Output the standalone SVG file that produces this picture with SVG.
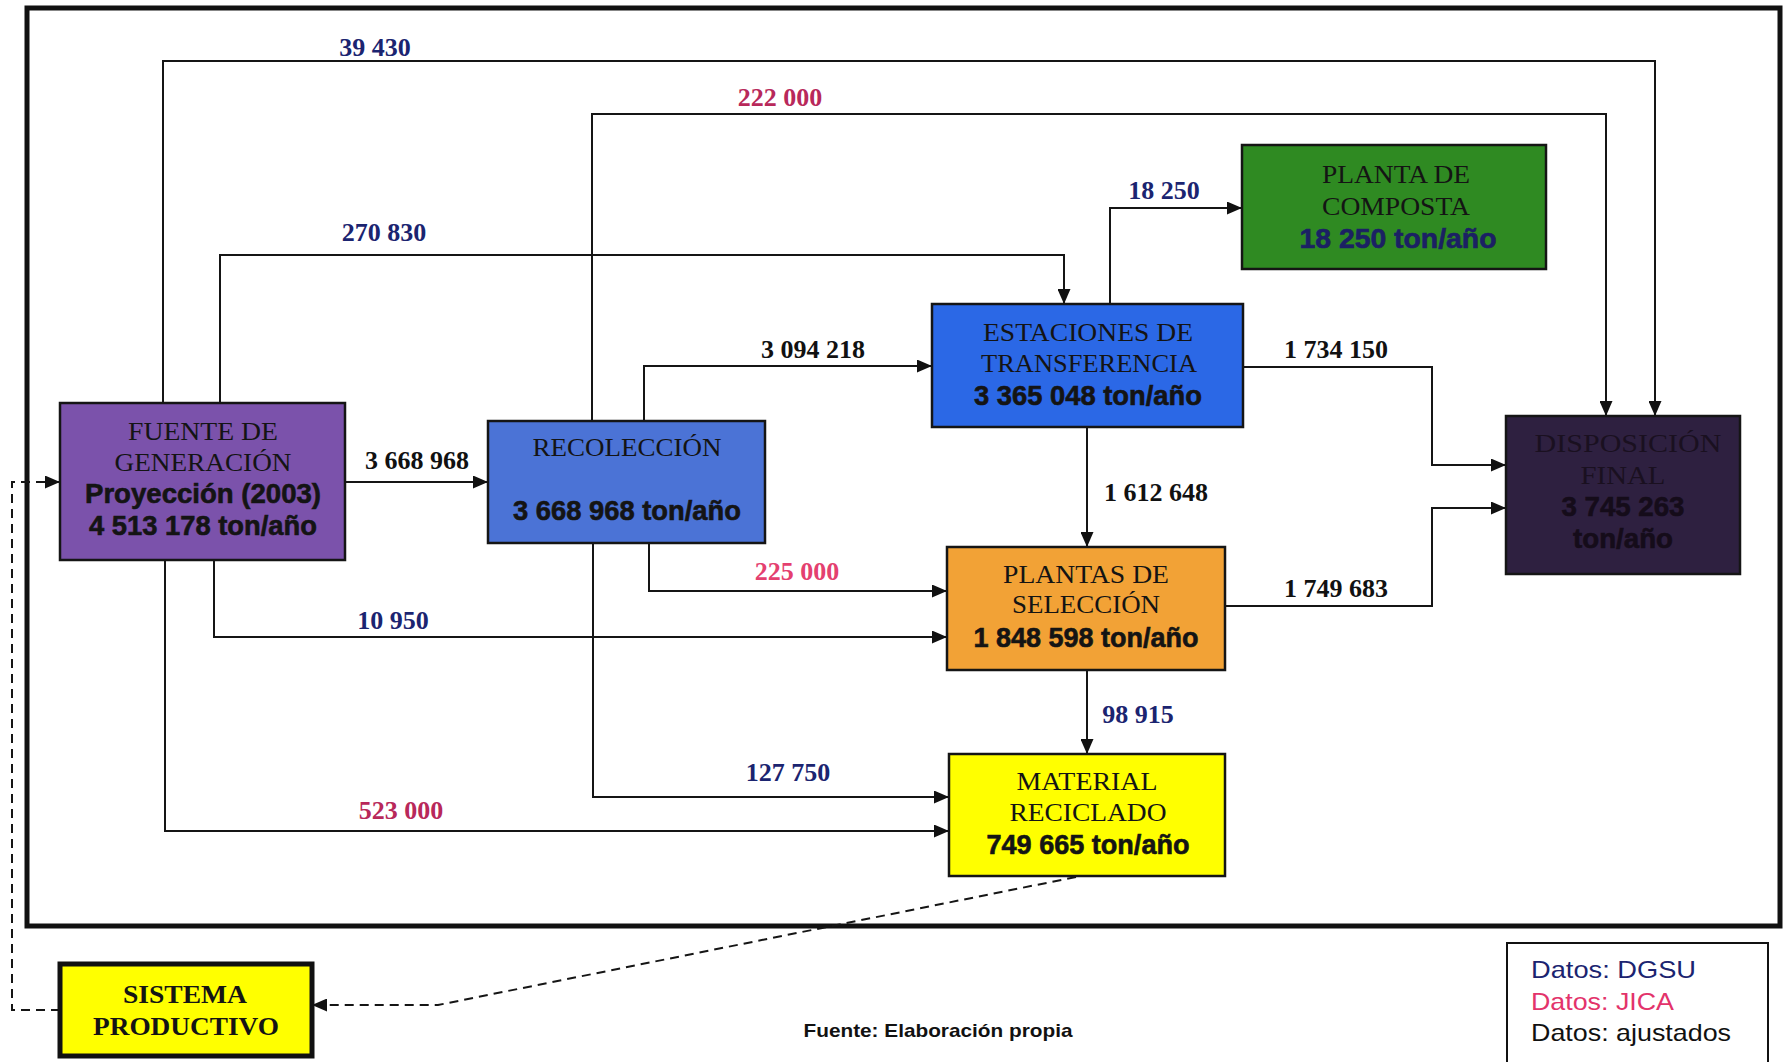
<svg xmlns="http://www.w3.org/2000/svg" width="1786" height="1062" viewBox="0 0 1786 1062">
  <style>
    .box { stroke: #151515; stroke-width: 2.5; }
    .t { font-family: "Liberation Serif", "Times New Roman", serif; font-size: 26px; text-anchor: middle; fill: #141414; }
    .b { font-family: "Liberation Sans", Arial, sans-serif; font-weight: bold; font-size: 27px; text-anchor: middle; fill: #141414; stroke: #141414; stroke-width: 0.6; }
    .lbl { font-family: "Liberation Serif", "Times New Roman", serif; font-weight: bold; font-size: 26px; text-anchor: middle; }
    .dgsu { fill: #1b2470; }
    .jica { fill: #b8285a; }
    .jica2 { fill: #e4406f; }
    .adj { fill: #111111; }
    .wire { fill: none; stroke: #151515; stroke-width: 2; marker-end: url(#ah); }
    .dash { fill: none; stroke: #151515; stroke-width: 2; stroke-dasharray: 9 6; marker-end: url(#ah); }
    .leg { font-family: "Liberation Sans", Arial, sans-serif; font-size: 24px; }
  </style>
  <defs>
    <marker id="ah" markerUnits="userSpaceOnUse" markerWidth="15" markerHeight="13" refX="15" refY="6.5" orient="auto">
      <path d="M0,0 L15,6.5 L0,13 z" fill="#111"/>
    </marker>
  </defs>

  <rect width="1786" height="1062" fill="#ffffff"/>

  <!-- outer frame -->
  <rect x="27" y="8" width="1753" height="918" fill="none" stroke="#111" stroke-width="5"/>

  <!-- flows between stages -->
  <g id="connectors">
    <path class="wire" d="M163,403 V61 H1655 V416"/>
    <path class="wire" d="M592,421 V114 H1606 V416"/>
    <path class="wire" d="M220,403 V255 H1064 V304"/>
    <path class="wire" d="M345,482 H488"/>
    <path class="wire" d="M644,421 V366 H932"/>
    <path class="wire" d="M1110,304 V208 H1242"/>
    <path class="wire" d="M1243,367 H1432 V465 H1506"/>
    <path class="wire" d="M1087,427 V547"/>
    <path class="wire" d="M1225,606 H1432 V508 H1506"/>
    <path class="wire" d="M649,543 V591 H947"/>
    <path class="wire" d="M214,560 V637 H947"/>
    <path class="wire" d="M1087,670 V754"/>
    <path class="wire" d="M593,543 V797 H949"/>
    <path class="wire" d="M165,560 V831 H949"/>
    <path class="dash" d="M1076,877 L438,1005 H312"/>
    <path class="dash" d="M60,1010 H12 V482 H60"/>

    <text class="lbl dgsu" x="375" y="56">39 430</text>
    <text class="lbl jica" x="780" y="106">222 000</text>
    <text class="lbl dgsu" x="384" y="241">270 830</text>
    <text class="lbl adj" x="417" y="469">3 668 968</text>
    <text class="lbl adj" x="813" y="358">3 094 218</text>
    <text class="lbl dgsu" x="1164" y="199">18 250</text>
    <text class="lbl adj" x="1336" y="358">1 734 150</text>
    <text class="lbl adj" x="1156" y="501">1 612 648</text>
    <text class="lbl adj" x="1336" y="597">1 749 683</text>
    <text class="lbl jica2" x="797" y="580">225 000</text>
    <text class="lbl dgsu" x="393" y="629">10 950</text>
    <text class="lbl dgsu" x="1138" y="723">98 915</text>
    <text class="lbl dgsu" x="788" y="781">127 750</text>
    <text class="lbl jica" x="401" y="819">523 000</text>
  </g>

  <g id="fuente">
    <rect class="box" x="60" y="403" width="285" height="157" fill="#7b52ab"/>
    <text class="t" x="203" y="440" textLength="150" lengthAdjust="spacingAndGlyphs">FUENTE DE</text>
    <text class="t" x="203" y="471" textLength="177" lengthAdjust="spacingAndGlyphs">GENERACIÓN</text>
    <text class="b" x="203" y="503" textLength="236" lengthAdjust="spacingAndGlyphs">Proyección (2003)</text>
    <text class="b" x="203" y="535" textLength="228" lengthAdjust="spacingAndGlyphs">4 513 178 ton/año</text>
  </g>

  <g id="recoleccion">
    <rect class="box" x="488" y="421" width="277" height="122" fill="#4b73d6"/>
    <text class="t" x="627" y="456" textLength="189" lengthAdjust="spacingAndGlyphs">RECOLECCIÓN</text>
    <text class="b" x="627" y="520" textLength="228" lengthAdjust="spacingAndGlyphs">3 668 968 ton/año</text>
  </g>

  <g id="estaciones">
    <rect class="box" x="932" y="304" width="311" height="123" fill="#2b68e6"/>
    <text class="t" x="1088" y="341" textLength="210" lengthAdjust="spacingAndGlyphs">ESTACIONES DE</text>
    <text class="t" x="1089" y="372" textLength="216" lengthAdjust="spacingAndGlyphs">TRANSFERENCIA</text>
    <text class="b" x="1088" y="405" textLength="228" lengthAdjust="spacingAndGlyphs">3 365 048 ton/año</text>
  </g>

  <g id="composta">
    <rect class="box" x="1242" y="145" width="304" height="124" fill="#2f8a22"/>
    <text class="t" x="1396" y="183" textLength="148" lengthAdjust="spacingAndGlyphs">PLANTA DE</text>
    <text class="t" x="1396" y="215" textLength="148" lengthAdjust="spacingAndGlyphs">COMPOSTA</text>
    <text class="b" x="1398" y="248" textLength="197" lengthAdjust="spacingAndGlyphs" style="fill:#1b2064;stroke:#1b2064">18 250 ton/año</text>
  </g>

  <g id="disposicion">
    <rect class="box" x="1506" y="416" width="234" height="158" fill="#2e2040"/>
    <text class="t" x="1628" y="452" textLength="187" lengthAdjust="spacingAndGlyphs" style="fill:#1a1020">DISPOSICIÓN</text>
    <text class="t" x="1623" y="484" textLength="85" lengthAdjust="spacingAndGlyphs" style="fill:#1a1020">FINAL</text>
    <text class="b" x="1623" y="516" textLength="123" lengthAdjust="spacingAndGlyphs" style="fill:#150c1a;stroke:#150c1a">3 745 263</text>
    <text class="b" x="1623" y="548" textLength="100" lengthAdjust="spacingAndGlyphs" style="fill:#150c1a;stroke:#150c1a">ton/año</text>
  </g>

  <g id="seleccion">
    <rect class="box" x="947" y="547" width="278" height="123" fill="#f2a236"/>
    <text class="t" x="1086" y="583" textLength="166" lengthAdjust="spacingAndGlyphs">PLANTAS DE</text>
    <text class="t" x="1086" y="613" textLength="148" lengthAdjust="spacingAndGlyphs">SELECCIÓN</text>
    <text class="b" x="1086" y="647" textLength="225" lengthAdjust="spacingAndGlyphs">1 848 598 ton/año</text>
  </g>

  <g id="material">
    <rect class="box" x="949" y="754" width="276" height="122" fill="#ffff00"/>
    <text class="t" x="1087" y="790" textLength="141" lengthAdjust="spacingAndGlyphs">MATERIAL</text>
    <text class="t" x="1088" y="821" textLength="157" lengthAdjust="spacingAndGlyphs">RECICLADO</text>
    <text class="b" x="1088" y="854" textLength="203" lengthAdjust="spacingAndGlyphs">749 665 ton/año</text>
  </g>

  <g id="sistema">
    <rect x="60" y="964" width="252" height="92" fill="#ffff00" stroke="#111" stroke-width="5"/>
    <text class="t" x="185" y="1003" textLength="124" lengthAdjust="spacingAndGlyphs" font-weight="bold">SISTEMA</text>
    <text class="t" x="186" y="1035" textLength="186" lengthAdjust="spacingAndGlyphs" font-weight="bold">PRODUCTIVO</text>
  </g>

  <!-- source note -->
  <text x="938" y="1037" font-family="'Liberation Sans', Arial, sans-serif" font-weight="bold" font-size="19" text-anchor="middle" fill="#111" textLength="269" lengthAdjust="spacingAndGlyphs">Fuente: Elaboración propia</text>

  <g id="legend">
    <rect x="1507" y="943" width="261" height="130" fill="#ffffff" stroke="#111" stroke-width="2"/>
    <text class="leg" x="1531" y="978" fill="#1b2470" textLength="165" lengthAdjust="spacingAndGlyphs">Datos: DGSU</text>
    <text class="leg" x="1531" y="1010" fill="#e3336b" textLength="143" lengthAdjust="spacingAndGlyphs">Datos: JICA</text>
    <text class="leg" x="1531" y="1041" fill="#111111" textLength="200" lengthAdjust="spacingAndGlyphs">Datos: ajustados</text>
  </g>
</svg>
